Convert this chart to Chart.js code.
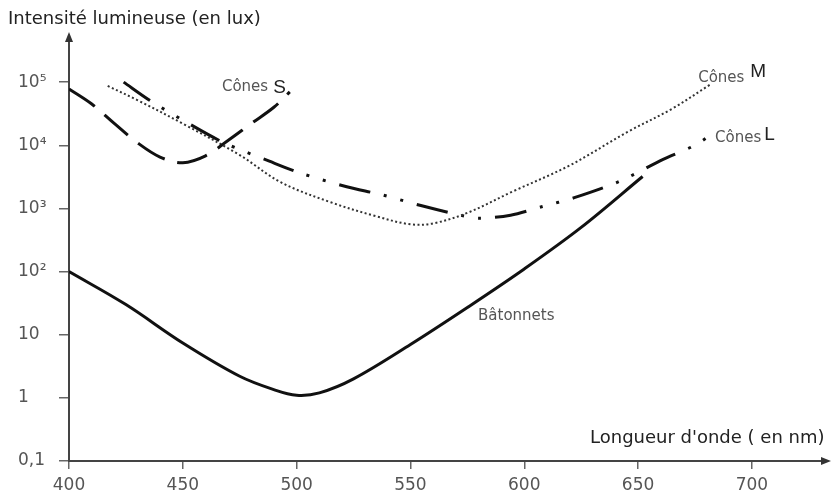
<!DOCTYPE html>
<html>
<head>
<meta charset="utf-8">
<script src="https://cdn.jsdelivr.net/npm/chart.js@4.4.1/dist/chart.umd.min.js"></script>
<style>
  html, body { margin: 0; padding: 0; background: #fff; }
  #wrap { width: 832px; height: 497px; position: relative; }
</style>
</head>
<body>
<div id="wrap"><canvas id="grafico"></canvas></div>
<script>
// Valeurs (longueur d'onde en nm, intensité en lux)
const batonnetsNm  = [400, 425, 450, 475, 490, 500, 510, 525, 550, 575, 600, 625, 652];
const batonnetsLux = [100, 30, 7.4, 2.2, 1.35, 1.1, 1.2, 2, 7, 27, 110, 500, 3200];

const conesSNm  = [400, 410, 420, 430, 440, 450, 460, 470, 480, 490, 497];
const conesSLux = [78000, 45000, 22000, 11000, 6500, 5300, 6800, 12000, 22000, 40000, 70000];

const conesMNm  = [417, 430, 450, 475, 493, 515, 535, 550, 560, 575, 595, 620, 645, 665, 682];
const conesMLux = [87000, 52000, 22000, 7000, 2600, 1250, 750, 560, 580, 850, 1860, 4800, 16000, 38000, 93000];

const conesLNm  = [424, 436, 450, 468, 488, 501, 522, 537, 555, 572, 580, 594, 608, 622, 642, 661, 674, 680];
const conesLLux = [100000, 50000, 25000, 11000, 5600, 3700, 2200, 1660, 1100, 780, 700, 780, 1070, 1480, 2700, 6000, 9600, 13000];

const xTicks = [400, 450, 500, 550, 600, 650, 700];
const yTicks = [0.1, 1, 10, 100, 1000, 10000, 100000];
const yTickLabels = ['0,1', '1', '10', '10²', '10³', '10⁴', '10⁵'];

const police = '"DejaVu Sans", Verdana, sans-serif';
const toPoints = (xs, ys) => xs.map((x, i) => ({ x: x, y: ys[i] }));

// Titres des axes, flèches et étiquettes des courbes
const decor = {
    id: 'decor',
    afterDraw(chart) {
        const c = chart.ctx;
        const xs = chart.scales.x, ys = chart.scales.y;
        const a = chart.chartArea;
        c.save();
        c.fillStyle = '#333';
        // flèche axe Y
        c.beginPath();
        c.moveTo(a.left, a.top - 6);
        c.lineTo(a.left - 4, a.top + 4);
        c.lineTo(a.left + 4, a.top + 4);
        c.closePath();
        c.fill();
        // flèche axe X
        c.beginPath();
        c.moveTo(a.right + 4, a.bottom);
        c.lineTo(a.right - 6, a.bottom - 4);
        c.lineTo(a.right - 6, a.bottom + 4);
        c.closePath();
        c.fill();

        c.fillStyle = '#222';
        c.textBaseline = 'alphabetic';
        c.textAlign = 'left';
        c.font = '18px ' + police;
        c.fillText('Intensité lumineuse (en lux)', 8, 24);
        c.fillText("Longueur d'onde ( en nm)", 590, 443);

        // étiquette : petit texte gris + grande lettre
        const label = (nm, lux, small, big, gap, dy) => {
            const px = xs.getPixelForValue(nm), py = ys.getPixelForValue(lux);
            c.font = '15px ' + police;
            c.fillStyle = '#555';
            c.fillText(small, px, py);
            const w = c.measureText(small).width;
            if (big) {
                c.font = '19px "Liberation Sans", Arial, sans-serif';
                c.fillStyle = '#222';
                c.fillText(big, px + w + gap, py + dy);
            }
        };
        label(467.2, 72000, 'Cônes', 'S', 5, 2);
        label(676.4, 100000, 'Cônes', 'M', 6, -5);
        label(683.8, 11200, 'Cônes', 'L', 3, -2);
        label(579.7, 17, 'Bâtonnets', null, 0, 0);
        c.restore();
    }
};

new Chart(document.getElementById('grafico'), {
    type: 'line',
    data: {
        datasets: [
            {
                label: 'Bâtonnets',
                data: toPoints(batonnetsNm, batonnetsLux),
                borderColor: '#111',
                borderWidth: 3,
                tension: 0.35
            },
            {
                label: 'Cônes S',
                data: toPoints(conesSNm, conesSLux),
                borderColor: '#111',
                borderWidth: 3,
                borderDash: [31, 13],
                tension: 0.35
            },
            {
                label: 'Cônes M',
                data: toPoints(conesMNm, conesMLux),
                borderColor: '#333',
                borderWidth: 2,
                borderDash: [2, 2.5],
                tension: 0.35
            },
            {
                label: 'Cônes L',
                data: toPoints(conesLNm, conesLLux),
                borderColor: '#111',
                borderWidth: 3,
                borderDash: [32, 14, 3, 14, 3, 14],
                tension: 0.3
            }
        ]
    },
    options: {
        responsive: true,
        maintainAspectRatio: false,
        animation: false,
        layout: { padding: { top: 38, right: 5, left: 18, bottom: 0 } },
        elements: { point: { radius: 0 } },
        plugins: {
            legend: { display: false },
            tooltip: { enabled: false }
        },
        scales: {
            x: {
                type: 'linear',
                min: 400,
                max: 733,
                afterBuildTicks: s => { s.ticks = xTicks.map(v => ({ value: v })); },
                afterFit: s => { s.height = 36; },
                border: { display: true, color: '#444', width: 2 },
                grid: { drawOnChartArea: false, drawTicks: true, tickLength: 8, color: '#666', lineWidth: 1.5 },
                ticks: {
                    color: '#555',
                    padding: 6,
                    maxRotation: 0,
                    font: { family: police, size: 17 }
                }
            },
            y: {
                type: 'logarithmic',
                min: 0.1,
                max: 500000,
                afterBuildTicks: s => { s.ticks = yTicks.map(v => ({ value: v })); },
                afterFit: s => { s.width = 51; },
                border: { display: true, color: '#444', width: 2 },
                grid: { drawOnChartArea: false, drawTicks: true, tickLength: 10, color: '#666', lineWidth: 1.5 },
                ticks: {
                    color: '#555',
                    padding: 4,
                    crossAlign: 'far',
                    font: { family: police, size: 17 },
                    callback: v => {
                        const i = yTicks.indexOf(v);
                        return i >= 0 ? yTickLabels[i] : '';
                    }
                }
            }
        }
    },
    plugins: [decor]
});
</script>
</body>
</html>
